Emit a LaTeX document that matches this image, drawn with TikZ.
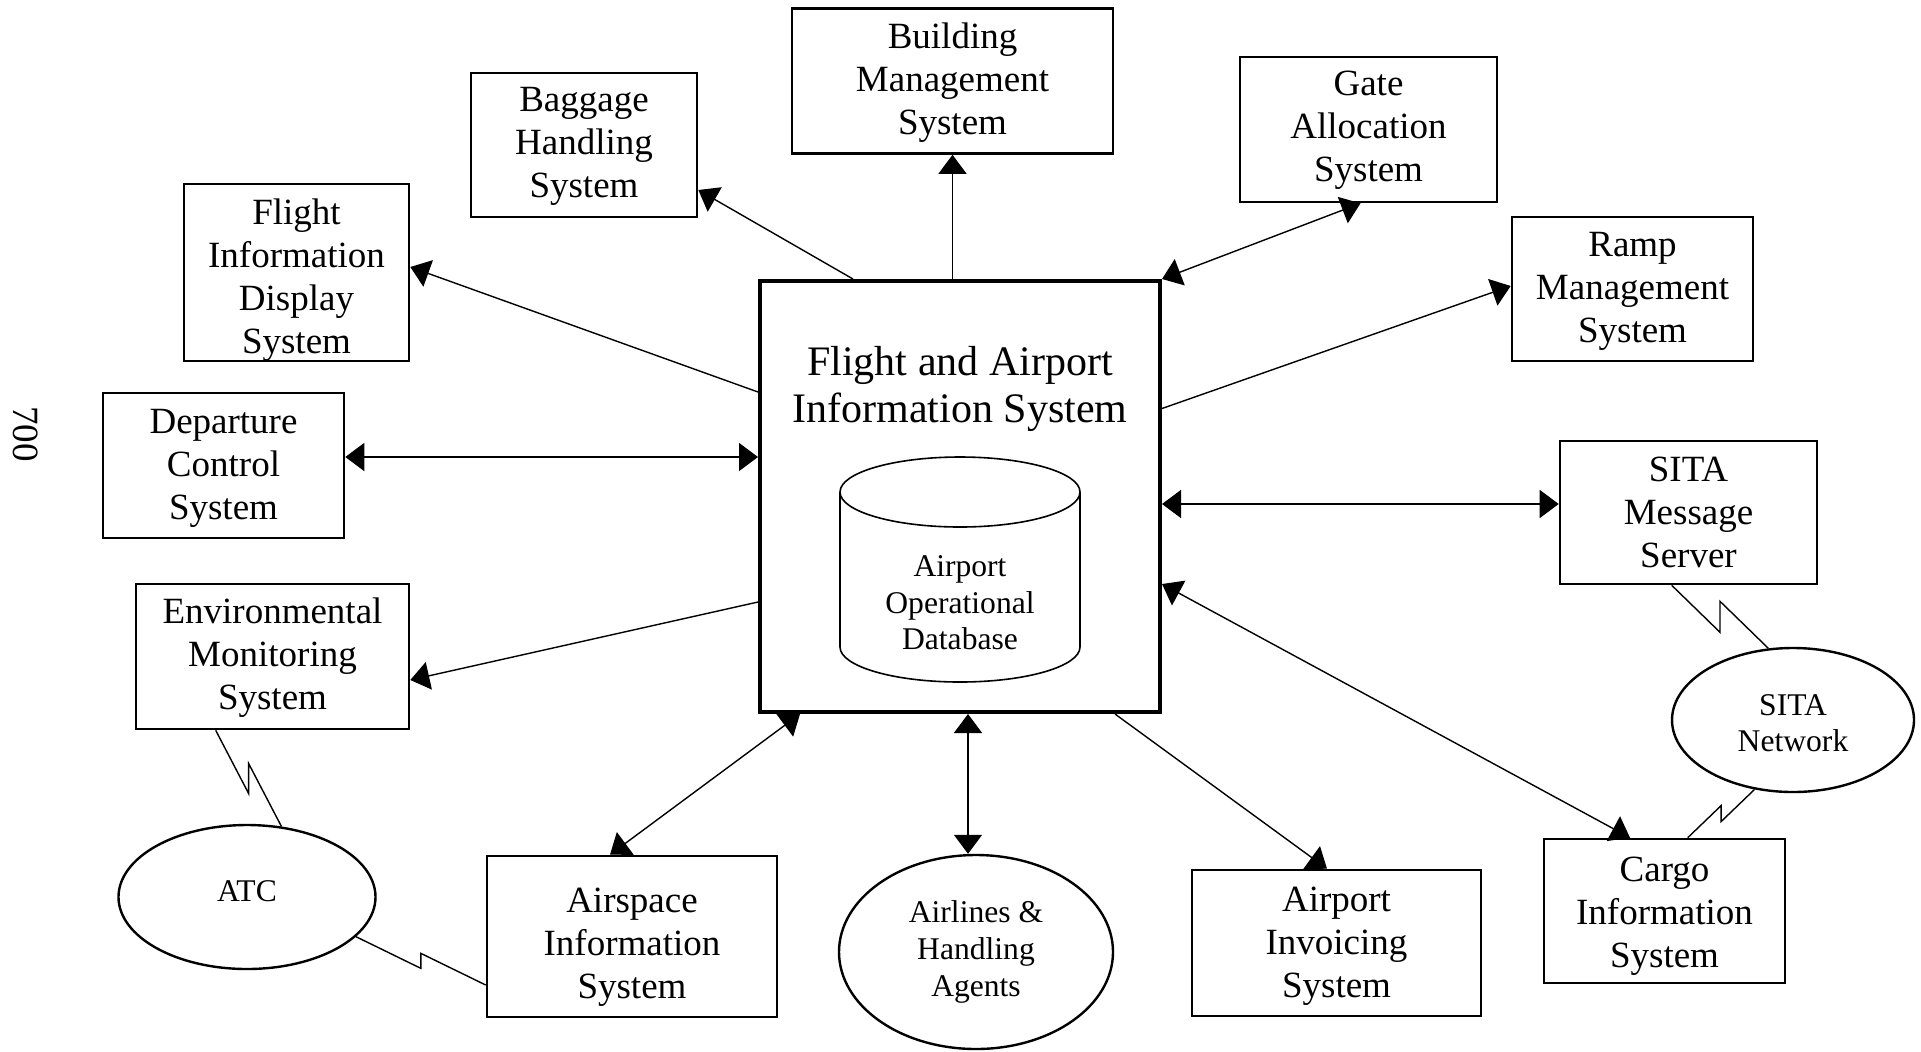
\documentclass[tikz,border=0pt]{standalone}
\usepackage{fontspec}
\setmainfont{Liberation Serif}
\usetikzlibrary{arrows.meta,shapes.geometric,calc}
\tikzset{
  box/.style={draw, line width=1.3pt, inner sep=0pt},
  boxlbl/.style={align=center, inner sep=0pt, font=\fontsize{18.5}{21.5}\selectfont},
  ovallbl/.style={align=center, inner sep=0pt, font=\fontsize{15.8}{18.3}\selectfont},
  btext/.style 2 args={label={[boxlbl, yshift=#1]center:{#2}}},
  otext/.style 2 args={label={[ovallbl, yshift=#1]center:{#2}}},
  sz/.style 2 args={minimum width=#1*0.5pt, minimum height=#2*0.5pt},
  oval/.style={ellipse, draw, line width=1.2pt, inner sep=0pt},
  link/.style={line width=0.7pt},
  arr/.style={link, -{Triangle[length=9.5pt,width=14pt]}},
  dbl/.style={link, {Triangle[length=9.5pt,width=14pt]}-{Triangle[length=9.5pt,width=14pt]}},
  zz/.style={link, to path={-- ($(\tikztostart)!.5!(\tikztotarget)+(0,#1)$)
    -- ++(0,-2*#1) -- (\tikztotarget)}}
}
\begin{document}
\begin{tikzpicture}[x=0.5pt,y=-0.5pt]
\useasboundingbox (0,0) rectangle (1921,1051);

% figure number
\node[rotate=-90, font=\fontsize{18.5}{21.5}\selectfont] (fignum) at (26,434) {700};

% central system with its database
\node[draw, line width=2pt, minimum width=200pt, minimum height=215.5pt, inner sep=0pt]
  (fais) at (960,496.5) {};
\node[align=center, font=\fontsize{21}{23.5}\selectfont] (title) at (960,388.5)
  {Flight and Airport\\Information System};
\draw[line width=0.8pt] (840,492) -- (840,647)
  arc[start angle=180, end angle=360, x radius=60pt, y radius=17.5pt] -- (1080,492);
\draw[line width=0.8pt] (960,492) ellipse[x radius=60pt, y radius=17.5pt];
\node[ovallbl] (aodb) at (960,603) {Airport\\Operational\\Database};

% surrounding systems
\node[box, sz={321}{145}, btext={-0.6pt}{Building\\Management\\System}] (bms) at (952.5,81) {};
\node[box, sz={226}{144}, btext={-0.6pt}{Baggage\\Handling\\System}] (bhs) at (584,145) {};
\node[box, sz={257}{145}, btext={-0.6pt}{Gate\\Allocation\\System}] (gas) at (1368.5,129.5) {};
\node[box, sz={225}{177}, btext={-3.7pt}{Flight\\Information\\Display\\System}] (fids) at (296.5,272.5) {};
\node[box, sz={241}{144}, btext={-1.2pt}{Ramp\\Management\\System}] (rms) at (1632.5,289) {};
\node[box, sz={241}{145}, btext={-1.2pt}{Departure\\Control\\System}] (dcs) at (223.5,465.5) {};
\node[box, sz={257}{143}, btext={0pt}{SITA\\Message\\Server}] (sms) at (1688.5,512.5) {};
\node[box, sz={273}{145}, btext={-0.6pt}{Environmental\\Monitoring\\System}] (ems) at (272.5,656.5) {};
\node[box, sz={290}{161}, btext={-5.5pt}{Airspace\\Information\\System}] (ais) at (632,936.5) {};
\node[box, sz={289}{146}, btext={-1.8pt}{Airport\\Invoicing\\System}] (ainv) at (1336.5,943) {};
\node[box, sz={241}{144}, btext={-2.5pt}{Cargo\\Information\\System}] (cis) at (1664.5,911) {};

\node[oval, sz={257}{144}, otext={3pt}{ATC}] (atc) at (247,897) {};
\node[oval, sz={274}{194}, otext={0pt}{Airlines \&\\Handling\\Agents}] (aha) at (976,952) {};
\node[oval, sz={242}{144}, otext={-1.5pt}{SITA\\Network}] (net) at (1793,720) {};

% connections to the central system
\draw[arr] (fais.north -| bms.south) -- (bms.south);
\draw[arr] ([xshift=-53.5pt]fais.north) -- ([yshift=-22.5pt]bhs.east);
\draw[dbl] (fais.north east) -- ([xshift=-4pt]gas.south);
\draw[arr] ([yshift=52.25pt]fais.west) -- ([yshift=2.75pt]fids.east);
\draw[arr] ([yshift=44pt]fais.east) -- ([yshift=1.5pt]rms.west);
\draw[dbl] ([yshift=19.75pt]fais.west) -- ([yshift=19.75pt]fais.west -| dcs.east);
\draw[dbl] ([yshift=-3.75pt]fais.east) -- ([yshift=-3.75pt]fais.east -| sms.west);
\draw[arr] ([yshift=-52.75pt]fais.west) -- ([yshift=-11.75pt]ems.east);
\draw[dbl] ([yshift=-43.75pt]fais.east) -- ([xshift=-17.25pt]cis.north);
\draw[dbl] ([xshift=-80pt]fais.south) -- ([xshift=-11pt]ais.north);
\draw[dbl] ([xshift=4pt]fais.south) -- ([xshift=4pt]fais.south |- aha.north);
\draw[arr] ([xshift=77.5pt]fais.south) -- ([xshift=-4.75pt]ainv.north);

% radio links
\coordinate (emsP) at ([xshift=40.5pt]ems.south west);
\coordinate (aisP) at ([yshift=-24.25pt]ais.west);
\coordinate (smsP) at ([xshift=56.5pt]sms.south west);
\coordinate (cisP) at ([xshift=72.5pt]cis.north west);
\draw[zz=15] (emsP) to (atc.64);
\draw[zz=7.5] (atc.-20) to (aisP);
\draw[zz=15.5] (smsP) to (net.109);
\draw[zz=8] (net.-119) to (cisP);
\end{tikzpicture}
\end{document}
